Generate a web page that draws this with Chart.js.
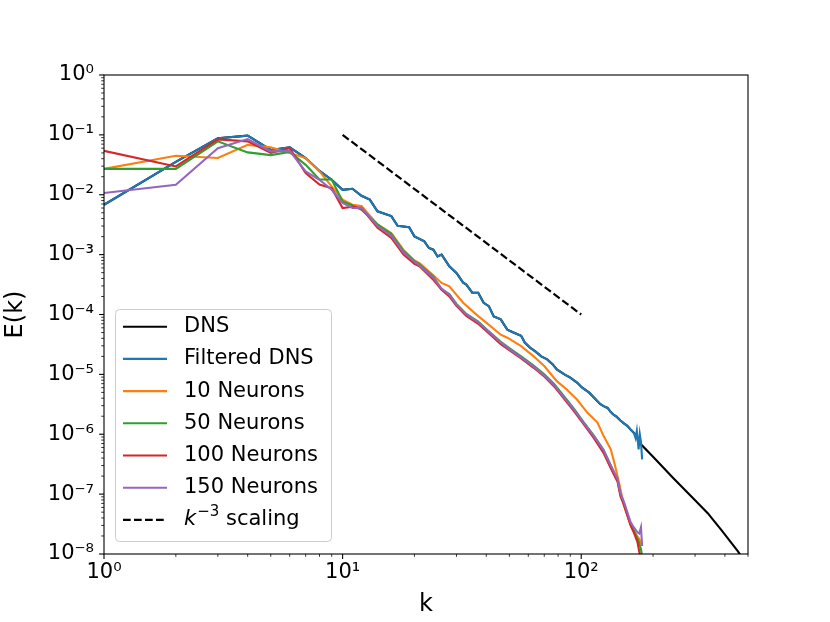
<!DOCTYPE html>
<html><head><meta charset="utf-8">
<script src="https://cdn.jsdelivr.net/npm/chart.js@4/dist/chart.umd.min.js"></script>
<style>html,body{margin:0;padding:0;background:#fff;}#wrap{width:830px;height:622px;}</style>
</head><body><div id="wrap"><canvas id="c" width="830" height="622"></canvas></div>
<script>
// ---------- data ----------
const seriesNames = ['DNS','Filtered DNS','10 Neurons','50 Neurons','100 Neurons','150 Neurons'];
const refName = 'k^-3 scaling';

// DNS: hidden under the filtered curve up to its cut-off, visible beyond it
const kDNS = [1,2,3,4,5,6,7,8,9,10,11,12,13,14,16,17,19,20,22,23,24,25,26,28,30,32,33,35,37,39,41,43,46,49,52,56,58,61,64,68,72,76,79,85,90,96,101,108,113,120,124,129,133,137,141,146,151,156,161,166,171,178,200,244,300,339,387,453,480];
const eDNS = [6.8e-3,3.55e-2,8.8e-2,9.7e-2,5.6e-2,6.2e-2,4.1e-2,2.5e-2,1.78e-2,1.21e-2,1.26e-2,9.6e-3,8.3e-3,5.3e-3,4.4e-3,3.04e-3,2.88e-3,2.02e-3,1.67e-3,1.29e-3,1.21e-3,9.3e-4,1.0e-3,6.4e-4,4.95e-4,3.4e-4,3.16e-4,2.3e-4,2.3e-4,1.57e-4,1.38e-4,9.3e-5,8.3e-5,5.6e-5,5.0e-5,4.4e-5,3.4e-5,2.8e-5,2.45e-5,2.0e-5,1.78e-5,1.47e-5,1.21e-5,1.0e-5,8.8e-6,7.3e-6,6.0e-6,4.95e-6,4.1e-6,3.2e-6,2.95e-6,2.75e-6,2.35e-6,2.1e-6,1.95e-6,1.7e-6,1.52e-6,1.38e-6,1.2e-6,1.06e-6,9.4e-7,6.8e-7,4.2e-7,1.82e-7,7.9e-8,4.8e-8,2.5e-8,1.12e-8,7.9e-9];

const kFiltered = [1,2,3,4,5,6,7,8,9,10,11,12,13,14,16,17,19,20,22,23,24,25,26,28,30,32,33,35,37,39,41,43,46,49,52,56,58,61,64,68,72,76,79,85,90,96,101,108,113,120,124,129,133,137,141,146,151,156,161,166,169,171,174,176,178,180];
const eFiltered = [6.8e-3,3.55e-2,8.8e-2,9.7e-2,5.6e-2,6.2e-2,4.1e-2,2.5e-2,1.78e-2,1.21e-2,1.26e-2,9.6e-3,8.3e-3,5.3e-3,4.4e-3,3.04e-3,2.88e-3,2.02e-3,1.67e-3,1.29e-3,1.21e-3,9.3e-4,1.0e-3,6.4e-4,4.95e-4,3.4e-4,3.16e-4,2.3e-4,2.3e-4,1.57e-4,1.38e-4,9.3e-5,8.3e-5,5.6e-5,5.0e-5,4.4e-5,3.4e-5,2.8e-5,2.45e-5,2.0e-5,1.78e-5,1.47e-5,1.21e-5,1.0e-5,8.8e-6,7.3e-6,6.0e-6,4.95e-6,4.1e-6,3.2e-6,2.95e-6,2.75e-6,2.35e-6,2.1e-6,1.95e-6,1.7e-6,1.52e-6,1.38e-6,1.2e-6,1.06e-6,8.6e-7,1.14e-6,5.6e-7,1.0e-6,7.4e-7,3.8e-7];

const k10 = [1,2,3,4,5,6,7,8,9,10,11,12,14,16,18,20,21,24,26,28,32,37,40,46,49,56,63,70,79,87,96,106,117,124,133,138,144,151,157,164,175,180];
const e10 = [0.027,0.0447,0.041,0.068,0.062,0.05,0.041,0.0245,0.0138,0.0083,0.0068,6.5e-3,3.2e-3,2.3e-3,1.2e-3,8.0e-4,7.2e-4,4.5e-4,3.37e-4,2.96e-4,1.57e-4,9.4e-5,7.3e-5,4.6e-5,4.1e-5,2.96e-5,2.02e-5,1.38e-5,7.7e-6,5.6e-6,3.8e-6,2.3e-6,1.57e-6,9.4e-7,5.6e-7,3.2e-7,1.57e-7,6.4e-8,4.2e-8,2.6e-8,1.78e-8,1.38e-8];

const kNeurons = [1,2,3,4,5,6,7,8,9,10,11,12,14,16,18,20,21,24,26,28,30,33,37,40,46,51,56,63,70,77,84,93,102,113,124,133,142,146,151,156,161,166,172,175,178,180];
const e50 = [0.027,0.027,0.078,0.051,0.046,0.052,0.0316,0.018,0.018,0.0077,0.0066,5.6e-3,3.2e-3,2.2e-3,1.15e-3,7.8e-4,6.9e-4,4.3e-4,2.6e-4,2.2e-4,1.5e-4,1.02e-4,7.6e-5,5.7e-5,3.5e-5,2.6e-5,2.0e-5,1.42e-5,1.0e-5,6.9e-6,4.5e-6,2.7e-6,1.62e-6,9.5e-7,5.5e-7,3.0e-7,1.7e-7,9.8e-8,7.0e-8,4.6e-8,3.1e-8,2.5e-8,1.8e-8,1.5e-8,1.2e-8,9e-9];
const e100 = [0.054,0.0297,0.084,0.078,0.05,0.06,0.023,0.0148,0.0129,0.006,0.0063,6.0e-3,2.8e-3,1.9e-3,1.0e-3,7.0e-4,6.4e-4,3.8e-4,2.6e-4,2.0e-4,1.4e-4,9.5e-5,7.0e-5,5.3e-5,3.2e-5,2.4e-5,1.85e-5,1.3e-5,9.2e-6,6.3e-6,4.1e-6,2.45e-6,1.5e-6,8.6e-7,4.9e-7,2.7e-7,1.6e-7,9.2e-8,6.6e-8,4.4e-8,3.0e-8,2.3e-8,1.6e-8,1.1e-8,8e-9,6e-9];
const e150 = [0.0107,0.0147,0.06,0.085,0.053,0.054,0.0245,0.0178,0.0121,0.0073,0.006,6.1e-3,3.0e-3,2.07e-3,1.08e-3,7.6e-4,6.6e-4,4.1e-4,2.7e-4,2.15e-4,1.47e-4,1.0e-4,7.4e-5,5.6e-5,3.4e-5,2.5e-5,1.92e-5,1.36e-5,9.6e-6,6.6e-6,4.3e-6,2.6e-6,1.58e-6,9.3e-7,5.4e-7,3.0e-7,1.78e-7,1.04e-7,7.4e-8,5.0e-8,3.4e-8,2.8e-8,2.3e-8,2.2e-8,2.8e-8,1.36e-8];

const kRef = [10, 100];
const eRef = [0.1, 1e-4];

const xMajorTicks = [1, 10, 100];
const xTickLabels = ['10\u2070', '10\u00b9', '10\u00b2'];
const yMajorTicks = [1, 1e-1, 1e-2, 1e-3, 1e-4, 1e-5, 1e-6, 1e-7, 1e-8];
const yTickLabels = ['10\u2070','10\u207b\u00b9','10\u207b\u00b2','10\u207b\u00b3','10\u207b\u2074','10\u207b\u2075','10\u207b\u2076','10\u207b\u2077','10\u207b\u2078'];

// ---------- helpers ----------
const pts = (ks, es) => ks.map((k, i) => ({x: k, y: es[i]}));
const isMajor = v => Math.abs(Math.log10(v) - Math.round(Math.log10(v))) < 1e-9;
function minorList(lo, hi, max) {
  const out = [];
  for (let e = lo; e <= hi; e++) for (let m = 1; m <= 9; m++) {
    const v = m * Math.pow(10, e);
    if (v <= max * 1.0000001) out.push(parseFloat(v.toPrecision(6)));
  }
  return out;
}
const xTickVals = minorList(0, 2, 500);
const yTickVals = minorList(-8, -1, 1).concat([1]);
function labelFor(v, majors, labels) {
  for (let i = 0; i < majors.length; i++) if (Math.abs(Math.log10(v) - Math.log10(majors[i])) < 1e-9) return labels[i];
  return '';
}

const FONT = "'DejaVu Sans'";
const colors = ['#000000','#1f77b4','#ff7f0e','#2ca02c','#d62728','#9467bd'];

const mplDecor = {
  id: 'mplDecor',
  afterDraw(chart) {
    const ctx = chart.ctx;
    const a = chart.chartArea;
    const xs = chart.scales.x, ys = chart.scales.y;
    ctx.save();
    ctx.strokeStyle = '#000';
    xs.ticks.forEach(t => {
      const px = xs.getPixelForValue(t.value);
      const maj = isMajor(t.value);
      ctx.lineWidth = maj ? 1.1 : 0.8;
      ctx.beginPath(); ctx.moveTo(px, a.bottom); ctx.lineTo(px, a.bottom + (maj ? 4.9 : 2.8)); ctx.stroke();
    });
    ys.ticks.forEach(t => {
      const py = ys.getPixelForValue(t.value);
      const maj = isMajor(t.value);
      ctx.lineWidth = maj ? 1.1 : 0.8;
      ctx.beginPath(); ctx.moveTo(a.left, py); ctx.lineTo(a.left - (maj ? 4.9 : 2.8), py); ctx.stroke();
    });
    ctx.lineWidth = 1.1;
    ctx.strokeRect(a.left, a.top, a.right - a.left, a.bottom - a.top);

    // legend (matplotlib style, lower left)
    const bx = 115.5, by = 309.5, bw = 216, bh = 232;
    ctx.beginPath();
    if (ctx.roundRect) ctx.roundRect(bx, by, bw, bh, 4); else ctx.rect(bx, by, bw, bh);
    ctx.fillStyle = 'rgba(255,255,255,0.8)'; ctx.fill();
    ctx.strokeStyle = '#cccccc'; ctx.lineWidth = 1; ctx.stroke();
    const y0 = 326.7, dy = 32.2, lx0 = 123, lx1 = 167, tx = 184;
    ctx.textBaseline = 'middle'; ctx.textAlign = 'left';
    ctx.font = '21px ' + FONT;
    seriesNames.forEach((n, i) => {
      const y = y0 + i * dy;
      ctx.strokeStyle = colors[i]; ctx.lineWidth = 2.1; ctx.setLineDash([]);
      ctx.beginPath(); ctx.moveTo(lx0, y); ctx.lineTo(lx1, y); ctx.stroke();
      ctx.fillStyle = '#000'; ctx.fillText(n, tx, y);
    });
    const yr = y0 + 6 * dy;
    ctx.strokeStyle = '#000'; ctx.lineWidth = 2.1; ctx.setLineDash([7.7, 3.3]);
    ctx.beginPath(); ctx.moveTo(lx0, yr); ctx.lineTo(lx1, yr); ctx.stroke();
    ctx.setLineDash([]);
    ctx.fillStyle = '#000';
    ctx.font = 'italic 21px ' + FONT;
    ctx.fillText('k', tx, yr);
    let xx = tx + ctx.measureText('k').width + 1;
    ctx.font = '15px ' + FONT;
    ctx.fillText('\u22123', xx, yr - 8);
    xx += ctx.measureText('\u22123').width;
    ctx.font = '21px ' + FONT;
    ctx.fillText(' scaling', xx, yr);
    ctx.restore();
  }
};

// lower "order" is drawn on top in Chart.js -> matplotlib plotting order
const ds = (label, data, color, order, extra) => Object.assign({
  label, data, borderColor: color, backgroundColor: color, borderWidth: 2.1,
  pointRadius: 0, pointHoverRadius: 0, tension: 0, fill: false, order, clip: 0
}, extra || {});

new Chart(document.getElementById('c'), {
  type: 'line',
  data: {
    datasets: [
      ds(seriesNames[0], pts(kDNS, eDNS), colors[0], 7),
      ds(seriesNames[1], pts(kFiltered, eFiltered), colors[1], 6),
      ds(seriesNames[2], pts(k10, e10), colors[2], 5),
      ds(seriesNames[3], pts(kNeurons, e50), colors[3], 4),
      ds(seriesNames[4], pts(kNeurons, e100), colors[4], 3),
      ds(seriesNames[5], pts(kNeurons, e150), colors[5], 2),
      ds(refName, pts(kRef, eRef), '#000000', 1, {borderDash: [7.7, 3.3], borderWidth: 2.2})
    ]
  },
  options: {
    responsive: false, animation: false, devicePixelRatio: 1,
    layout: {padding: {left: 0, top: 75, right: 82, bottom: 0}},
    plugins: {legend: {display: false}, tooltip: {enabled: false}},
    scales: {
      x: {
        type: 'logarithmic', min: 1, max: 500,
        grid: {display: false, drawTicks: false},
        border: {display: false},
        afterBuildTicks: s => { s.ticks = xTickVals.map(v => ({value: v, major: isMajor(v)})); },
        afterFit: s => { s.height = 68; },
        ticks: {
          autoSkip: false, maxRotation: 0, padding: 6, color: '#000',
          font: {family: FONT, size: 21},
          callback: v => labelFor(v, xMajorTicks, xTickLabels)
        },
        title: {display: true, text: 'k', color: '#000', font: {family: FONT, size: 24}, padding: {top: 0, bottom: 3}}
      },
      y: {
        type: 'logarithmic', min: 1e-8, max: 1,
        grid: {display: false, drawTicks: false},
        border: {display: false},
        afterBuildTicks: s => { s.ticks = yTickVals.map(v => ({value: v, major: isMajor(v)})); },
        afterFit: s => { s.width = 104; },
        ticks: {
          autoSkip: false, padding: 10, color: '#000',
          font: {family: FONT, size: 21},
          callback: v => labelFor(v, yMajorTicks, yTickLabels)
        },
        title: {display: true, text: 'E(k)', color: '#000', font: {family: FONT, size: 24}, padding: {top: 1, bottom: 0}}
      }
    }
  },
  plugins: [mplDecor]
});
</script></body></html>
